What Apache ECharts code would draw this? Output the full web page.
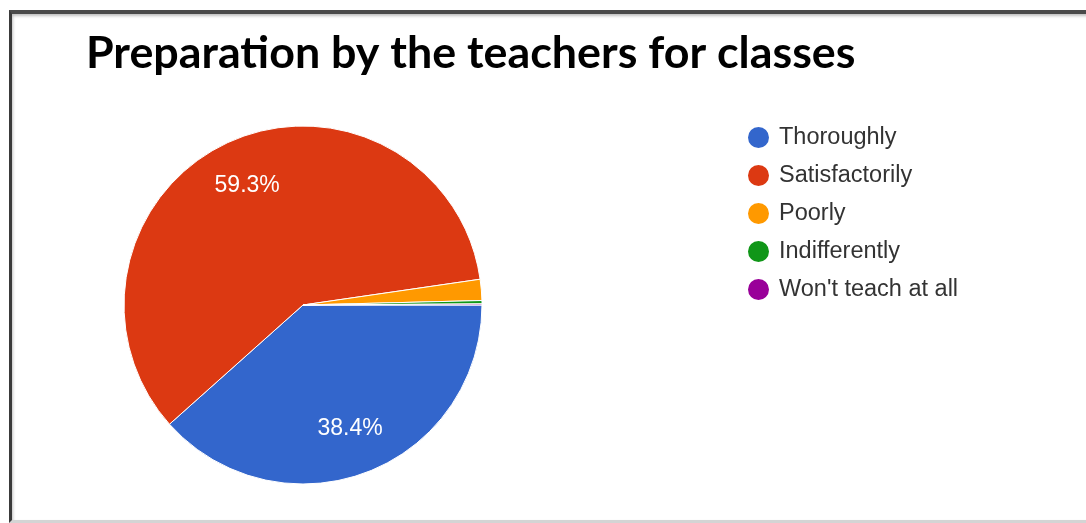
<!DOCTYPE html>
<html><head><meta charset="utf-8">
<script src="https://cdn.jsdelivr.net/npm/echarts@6/dist/echarts.min.js"></script>
<style>
html,body{margin:0;padding:0;background:#fff;overflow:hidden;}
#frame{position:absolute;left:9px;top:10px;width:1100px;height:506px;border-left:3px solid #3a3a3a;border-top:4px solid #4a4a4a;border-bottom:3px solid #d4d4d4;box-shadow:1px 2px 3px rgba(0,0,0,0.25) inset;}
#chart{position:absolute;left:0;top:0;width:1086px;height:523px;}
</style></head>
<body>
<div id="frame"></div>
<div id="chart"></div>
<script>
const titleText = "Preparation by the teachers for classes";
const categories = ["Thoroughly", "Satisfactorily", "Poorly", "Indifferently", "Won't teach at all"];
const values = [38.4, 59.3, 1.9, 0.3, 0.1];
const colors = ["#3366cc", "#dc3912", "#ff9900", "#109618", "#990099"];

const data = categories.map((c, i) => ({ name: c, value: values[i], itemStyle: { color: colors[i] } }));
const chart = echarts.init(document.getElementById('chart'), null, { renderer: 'canvas' });
chart.setOption({
  backgroundColor: 'transparent',
  animation: false,
  title: {
    text: titleText, left: 81, top: 26,
    textStyle: { fontFamily: 'Lato', fontWeight: 'bold', fontSize: 44.8, color: '#000' }
  },
  legend: {
    orient: 'vertical', left: 741, top: 120,
    icon: 'circle', itemWidth: 23, itemHeight: 23, itemGap: 13,
    data: categories,
    textStyle: { fontFamily: 'Liberation Sans', fontSize: 23.5, lineHeight: 23, color: '#333', padding: [0, 0, 0, 4] }
  },
  series: [
    {
      type: 'pie', center: [303, 305], radius: [0, 179], startAngle: 0, clockwise: true,
      data: data, label: { show: false }, labelLine: { show: false },
      itemStyle: { borderColor: '#fff', borderWidth: 1 }, silent: true
    },
    {
      type: 'pie', center: [303, 305], radius: [79, 179], startAngle: 0, clockwise: true,
      data: categories.map((c, i) => ({ name: c, value: values[i] })),
      itemStyle: { color: 'rgba(0,0,0,0)', borderWidth: 0 },
      label: {
        show: true, position: 'inside', color: '#fff', fontFamily: 'Liberation Sans', fontSize: 23,
        formatter: p => p.percent > 5 ? p.value.toFixed(1) + '%' : ''
      },
      labelLine: { show: false }, silent: true, legendHoverLink: false
    }
  ]
});
</script>
</body></html>
